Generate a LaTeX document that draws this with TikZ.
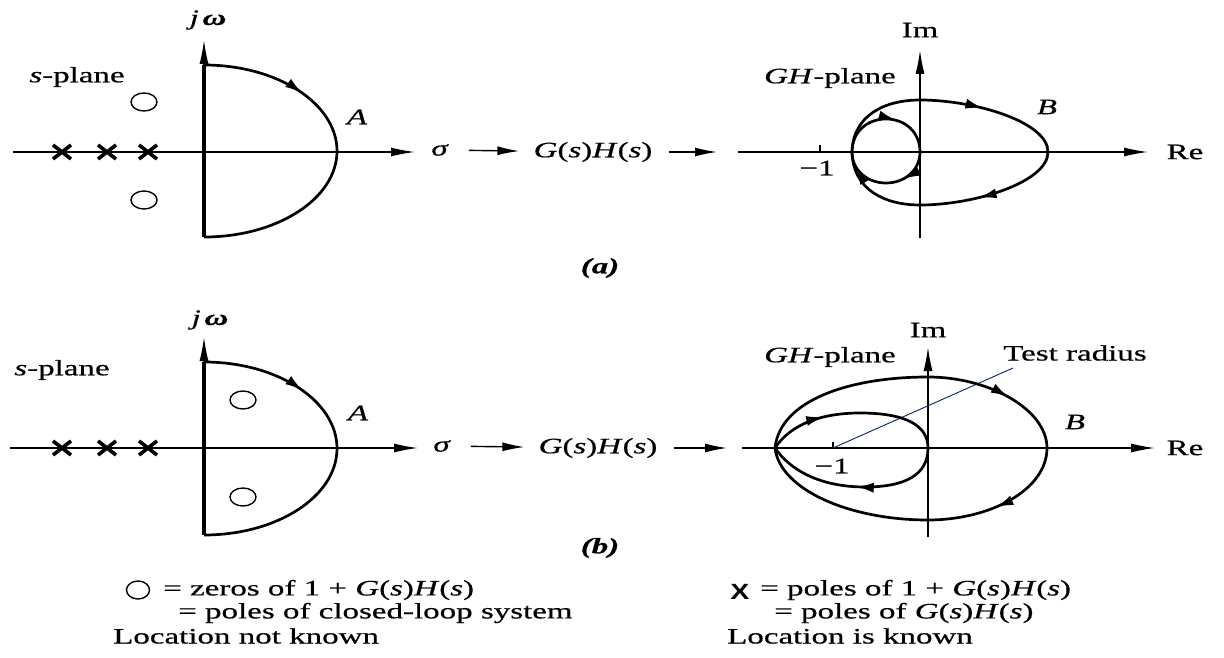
\documentclass[tikz,border=0pt]{standalone}
\usepackage{fontspec}
\setmainfont[FakeStretch=1.5,FakeBold=0.6]{Liberation Serif}
\newfontfamily\xsans[FakeStretch=1.3]{Liberation Sans}
\usetikzlibrary{arrows.meta,decorations.markings}
\begin{document}
\begin{tikzpicture}[x=1pt,y=-1pt,
  every node/.style={inner sep=0pt, font=\fontsize{22}{26}\selectfont},
  axis/.style={line width=1.4pt},
  axarrow/.style={axis,-{Latex[length=24pt,width=9pt]}},
  midarrow/.style={line width=1.4pt,-{Latex[length=22pt,width=9pt]}},
  thickax/.style={line width=4.5pt},
  contour/.style={line width=2.7pt},
  mk/.style={postaction={decorate,decoration={markings,mark=at position #1 with {\arrow{Latex[length=18pt,width=10pt]}}}}},
  zero/.style={line width=1.4pt},
  polex/.style={line width=3.6pt},
  trline/.style={line width=1pt, draw={rgb,255:red,25;green,55;blue,110}}
]
\useasboundingbox (0,0) rectangle (1224,658);

%================ (a) =================
\coordinate (sLa) at (13,152);
\coordinate (sRa) at (415,152);
\coordinate (jBa) at (204,237);
\coordinate (jTa) at (204,40);
\draw[axarrow] (sLa) -- (sRa);
\draw[axarrow] (jBa) -- (jTa);
\draw[thickax] (204,65) -- (jBa);
\draw[contour, mk=0.3] (204,65) arc[start angle=90, end angle=-90, x radius=133pt, y radius=86pt];
\foreach \px in {62,107,148} {
  \draw[polex] (\px-9,152-7) -- (\px+9,152+7);
  \draw[polex] (\px-9,152+7) -- (\px+9,152-7);
}
\draw[zero] (144,102) ellipse [x radius=13pt, y radius=9pt];
\draw[zero] (144,200) ellipse [x radius=13pt, y radius=9pt];
\node (jwa) at (208,20) {\textit{j}\,\textbf{\textit{ω}}};
\node (spa) at (77,77) {\textit{s}-plane};
\node (Aa) at (357,117) {\textit{A}};
\node (siga) at (440,150) {\textit{σ}};
\node (gha) at (593,152) {\textit{G}(\textit{s})\textit{H}(\textit{s})};
\coordinate (tipa) at (717,152);
\draw[midarrow, shorten <=20pt, shorten >=14pt] (siga) -- (gha);
\draw[midarrow, shorten <=16pt] (gha) -- (tipa);

% GH-plane (a)
\coordinate (ReLa) at (738,152);
\coordinate (ReRa) at (1148,152);
\coordinate (ImBa) at (920,238);
\coordinate (ImTa) at (920,50);
\draw[axarrow] (ReLa) -- (ReRa);
\draw[axarrow] (ImBa) -- (ImTa);
\draw[axis] (820,145) -- (820,152);
\node (Rea) at (1185,152) {Re};
\node (Ima) at (920,30) {Im};
\node (GHpa) at (830,78) {\textit{GH}-plane};
\node (Ba) at (1047,107) {\textit{B}};
\node (m1a) at (817,168) {−1};
\draw[contour, mk=0.66] (852,152) .. controls (853,115) and (885,100) .. (920,100)
   .. controls (975,100) and (1048,122) .. (1048,152);
\draw[contour, mk=0.36] (1048,152) .. controls (1048,182) and (975,205) .. (920,205)
   .. controls (885,205) and (853,190) .. (852,152);
\draw[contour, mk=0.6] (852,152) .. controls (852,132) and (867,119) .. (886,119)
   .. controls (905,119) and (920,132) .. (920,152);
\draw[contour, mk=0.33, mk=0.85] (920,152) .. controls (920,170) and (905,183) .. (886,183)
   .. controls (867,183) and (852,170) .. (852,152);
\node[font=\fontsize{22}{26}\selectfont\bfseries\itshape] (capa) at (600,268) {(a)};

%================ (b) =================
\coordinate (sLb) at (10,448);
\coordinate (sRb) at (418,448);
\coordinate (jBb) at (204,535);
\coordinate (jTb) at (204,337);
\draw[axarrow] (sLb) -- (sRb);
\draw[axarrow] (jBb) -- (jTb);
\draw[thickax] (204,362) -- (jBb);
\draw[contour, mk=0.3] (204,362) arc[start angle=90, end angle=-90, x radius=133pt, y radius=86.5pt];
\foreach \px in {62,107,148} {
  \draw[polex] (\px-9,448-7) -- (\px+9,448+7);
  \draw[polex] (\px-9,448+7) -- (\px+9,448-7);
}
\draw[zero] (243,400) ellipse [x radius=13pt, y radius=9pt];
\draw[zero] (243,497) ellipse [x radius=13pt, y radius=9pt];
\node (jwb) at (210,320) {\textit{j}\,\textbf{\textit{ω}}};
\node (spb) at (62,370) {\textit{s}-plane};
\node (Ab) at (358,413) {\textit{A}};
\node (sigb) at (442,446) {\textit{σ}};
\node (ghb) at (598,448) {\textit{G}(\textit{s})\textit{H}(\textit{s})};
\coordinate (tipb) at (727,448);
\draw[midarrow, shorten <=20pt, shorten >=14pt] (sigb) -- (ghb);
\draw[midarrow, shorten <=16pt] (ghb) -- (tipb);

% GH-plane (b)
\coordinate (ReLb) at (742,448);
\coordinate (ReRb) at (1155,448);
\coordinate (ImBb) at (928,537);
\coordinate (ImTb) at (928,347);
\draw[axarrow] (ReLb) -- (ReRb);
\draw[axarrow] (ImBb) -- (ImTb);
\coordinate (m1pt) at (833,448);
\draw[axis] (833,442) -- (m1pt);
\node (Reb) at (1185,448) {Re};
\node (Imb) at (928,330) {Im};
\node (GHpb) at (830,357) {\textit{GH}-plane};
\node (Bb) at (1075,422) {\textit{B}};
\node (m1b) at (832,466) {−1};
\node (trb) at (1075,353) {Test radius};
\coordinate (trEnd) at (1013,368);
\draw[trline] (m1pt) -- (trEnd);
\draw[contour, mk=0.8] (775,448) .. controls (780,400) and (850,377) .. (928,377)
   .. controls (990,377) and (1047,410) .. (1047,448);
\draw[contour, mk=0.25] (1047,448) .. controls (1047,490) and (990,520) .. (928,520)
   .. controls (850,520) and (780,490) .. (775,448);
\draw[contour, mk=0.33] (775,448) .. controls (790,425) and (820,413) .. (860,413)
   .. controls (905,413) and (928,425) .. (928,448);
\draw[contour, mk=0.5] (928,448) .. controls (928,475) and (905,487) .. (865,487)
   .. controls (820,487) and (790,470) .. (775,448);
\node[font=\fontsize{22}{26}\selectfont\bfseries\itshape] (capb) at (600,548) {(b)};

%================ legend =================
\draw[zero] (138,590) ellipse [x radius=11.5pt, y radius=9pt];
\node[anchor=west] (l1) at (163,590) {= zeros of 1 + \textit{G}(\textit{s})\textit{H}(\textit{s})};
\node[anchor=west] (l2) at (178,613) {= poles of closed-loop system};
\node[anchor=west] (l3) at (113,636) {Location not known};
\node (lx) at (740,592) {\xsans\bfseries X};
\node[anchor=west] (r1) at (760,590) {= poles of 1 + \textit{G}(\textit{s})\textit{H}(\textit{s})};
\node[anchor=west] (r2) at (774,613) {= poles of \textit{G}(\textit{s})\textit{H}(\textit{s})};
\node[anchor=west] (r3) at (727,636) {Location is known};
\end{tikzpicture}
\end{document}
